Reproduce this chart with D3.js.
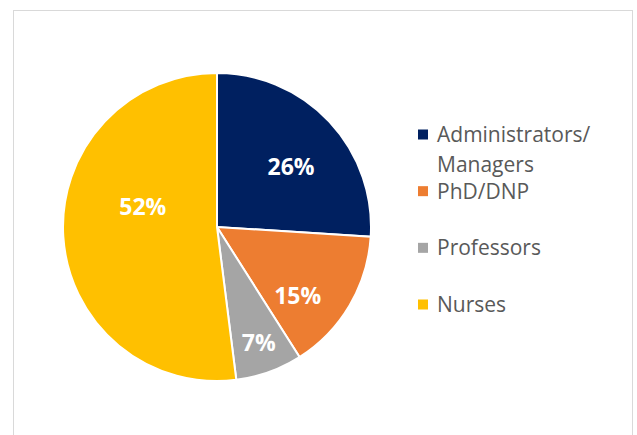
<!DOCTYPE html>
<html>
<head>
<meta charset="utf-8">
<script src="https://cdn.jsdelivr.net/npm/d3@7"></script>
<style>
body { margin: 0; background: #fff; }
svg { display: block; font-family: "Open Sans", "Liberation Sans", sans-serif; }
</style>
</head>
<body>
<script>
var w = 637, h = 435;

// data
var categories = ["Administrators/Managers", "PhD/DNP", "Professors", "Nurses"];
var legendLines = [["Administrators/", "Managers"], ["PhD/DNP"], ["Professors"], ["Nurses"]];
var values = [26, 15, 7, 52];
var colors = ["#002060", "#ED7D31", "#A5A5A5", "#FFC000"];

// label placement (Excel best fit), radius fraction + angle shift in degrees
var labelR = [0.62, 0.69, 0.80, 0.50];
var labelShift = [4, 10, 0, 19];

var cx = 217, cy = 227, r = 154;

var svg = d3.select("body").append("svg")
	.attr("width", w)
	.attr("height", h);

// chart frame
svg.append("rect")
	.attr("x", 13.5).attr("y", 10.5)
	.attr("width", 619).attr("height", 440)
	.style("fill", "#fff")
	.style("stroke", "#d9d9d9")
	.style("stroke-width", 1);

var pie = d3.pie().sort(null).value(function(d) { return d; });
var arcs = pie(values);

var arc = d3.arc().innerRadius(0).outerRadius(r);

var g = svg.append("g").attr("transform", "translate(" + cx + "," + cy + ")");

g.selectAll("path")
	.data(arcs)
	.enter()
	.append("path")
	.attr("d", arc)
	.style("fill", function(d, i) { return colors[i]; })
	.style("stroke", "#fff")
	.style("stroke-width", 2);

g.selectAll("text.lbl")
	.data(arcs)
	.enter()
	.append("text")
	.attr("class", "lbl")
	.attr("transform", function(d, i) {
		var a = (d.startAngle + d.endAngle) / 2 + labelShift[i] * Math.PI / 180;
		var rr = r * labelR[i];
		return "translate(" + (rr * Math.sin(a)) + "," + (-rr * Math.cos(a)) + ")";
	})
	.attr("text-anchor", "middle")
	.attr("dy", "0.36em")
	.style("fill", "#fff")
	.style("font-weight", "bold")
	.style("font-size", "23px")
	.text(function(d) { return d.data + "%"; });

// legend
var ly = d3.scaleLinear().domain([0, 3]).range([134.5, 304.5]);
var legend = svg.append("g");

var item = legend.selectAll("g")
	.data(categories)
	.enter()
	.append("g")
	.attr("transform", function(d, i) { return "translate(418," + ly(i) + ")"; });

item.append("rect")
	.attr("x", 0).attr("y", -5)
	.attr("width", 10).attr("height", 10)
	.style("fill", function(d, i) { return colors[i]; });

item.append("text")
	.attr("x", 19)
	.attr("y", 7.5)
	.style("fill", "#595959")
	.style("font-size", "21px")
	.selectAll("tspan")
	.data(function(d, i) { return legendLines[i]; })
	.enter()
	.append("tspan")
	.attr("x", 19)
	.attr("dy", function(d, j) { return j == 0 ? 0 : 30; })
	.text(function(d) { return d; });
</script>
</body>
</html>
